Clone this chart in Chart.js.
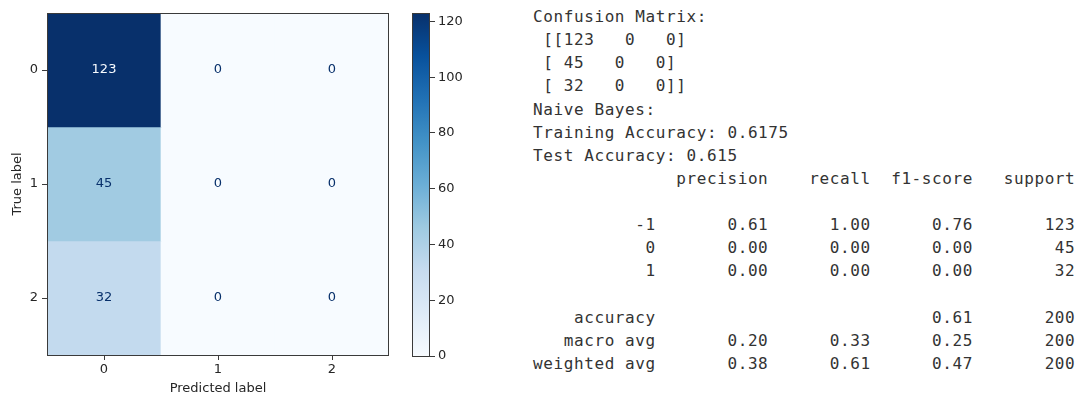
<!DOCTYPE html>
<html>
<head>
<meta charset="utf-8">
<script src="https://cdn.jsdelivr.net/npm/chart.js@4/dist/chart.umd.min.js"></script>
<style>
  body { margin: 0; background: #fff; width: 1081px; height: 396px; position: relative; overflow: hidden; }
  #cmBox { position: absolute; left: 0; top: 0; width: 400px; height: 396px; }
  #cbBox { position: absolute; left: 400px; top: 0; width: 80px; height: 396px; }
  #report {
    position: absolute; left: 533px; top: 5px; margin: 0;
    font-family: "DejaVu Sans Mono", monospace; font-size: 16px; letter-spacing: 0.6px;
    line-height: 23.13px; color: #333; white-space: pre;
  }
</style>
</head>
<body>
<div id="cmBox"><canvas id="cmChart"></canvas></div>
<div id="cbBox"><canvas id="cbChart"></canvas></div>
<pre id="report"></pre>
<script>
// confusion matrix
const predictedLabels = ['0', '1', '2'];
const trueLabels = ['0', '1', '2'];
const matrixRows = [
    [123, 0, 0],
    [45, 0, 0],
    [32, 0, 0]
];
const colorbarTicks = [0, 20, 40, 60, 80, 100, 120];

// printed report
const trainAccuracy = '0.6175';
const testAccuracy = '0.615';
const reportClasses = ['-1', '0', '1'];
const precision = [0.61, 0.00, 0.00];
const recall = [1.00, 0.00, 0.00];
const f1Score = [0.76, 0.00, 0.00];
const support = [123, 45, 32];
const accuracy = 0.61;
const totalSupport = 200;
const macroAvg = [0.20, 0.33, 0.25];
const weightedAvg = [0.38, 0.61, 0.47];

const maxVal = Math.max(...matrixRows.flat());

// matplotlib "Blues"
const bluesStops = ['#f7fbff', '#deebf7', '#c6dbef', '#9ecae1', '#6baed6', '#4292c6', '#2171b5', '#08519c', '#08306b'];
function hexRgb(h) {
    return [1, 3, 5].map(i => parseInt(h.substr(i, 2), 16));
}
function blues(t) {
    t = Math.min(1, Math.max(0, t));
    const p = t * (bluesStops.length - 1);
    const i = Math.min(Math.floor(p), bluesStops.length - 2);
    const f = p - i;
    const a = hexRgb(bluesStops[i]), b = hexRgb(bluesStops[i + 1]);
    const c = a.map((v, k) => Math.round(v + (b[k] - v) * f));
    return `rgb(${c[0]}, ${c[1]}, ${c[2]})`;
}

const tickFont = { family: 'DejaVu Sans', size: 13 };
const inkColor = '#262626';

const framePlugin = {
    id: 'frame',
    afterDraw(chart) {
        const { ctx, chartArea: a } = chart;
        ctx.save();
        ctx.strokeStyle = '#3a3a3a';
        ctx.lineWidth = 1;
        ctx.strokeRect(Math.round(a.left) + 0.5, Math.round(a.top) + 0.5,
            Math.round(a.right - a.left) - 1, Math.round(a.bottom - a.top));
        ctx.restore();
    }
};

const cellTextPlugin = {
    id: 'cellText',
    afterDatasetsDraw(chart) {
        const ctx = chart.ctx;
        ctx.save();
        ctx.font = '13px "DejaVu Sans"';
        ctx.textAlign = 'center';
        ctx.textBaseline = 'middle';
        chart.data.datasets.forEach((ds, di) => {
            chart.getDatasetMeta(di).data.forEach((bar, j) => {
                const v = ds.values[j];
                const p = bar.getCenterPoint();
                ctx.fillStyle = v > maxVal / 2 ? bluesStops[0] : bluesStops[8];
                ctx.fillText(String(v), p.x, p.y);
            });
        });
        ctx.restore();
    }
};

new Chart(document.getElementById('cmChart'), {
    type: 'bar',
    data: {
        labels: predictedLabels,
        datasets: matrixRows.map((row, i) => ({
            data: row.map(() => [i - 0.5, i + 0.5]),
            values: row,
            backgroundColor: row.map(v => blues(v / maxVal)),
            borderWidth: 0,
            barPercentage: 1,
            categoryPercentage: 1
        }))
    },
    options: {
        responsive: true,
        maintainAspectRatio: false,
        animation: false,
        layout: { padding: { top: 13, right: 11, left: 0, bottom: 0 } },
        plugins: { legend: { display: false }, tooltip: { enabled: false } },
        scales: {
            x: {
                stacked: true,
                offset: true,
                afterFit: s => { s.height = 41; },
                grid: { offset: false, drawOnChartArea: false, tickLength: 5, color: '#3a3a3a' },
                border: { display: false },
                ticks: { font: tickFont, color: inkColor, padding: 2, maxRotation: 0 },
                title: { display: true, text: 'Predicted label', font: { family: 'DejaVu Sans', size: 13, lineHeight: 1.1 }, color: inkColor, padding: { top: 0, bottom: 0 } }
            },
            y: {
                min: -0.5,
                max: 2.5,
                reverse: true,
                afterFit: s => { s.width = 47; },
                afterBuildTicks: s => { s.ticks = trueLabels.map((_, i) => ({ value: i })); },
                grid: { drawOnChartArea: false, tickLength: 5, color: '#3a3a3a' },
                border: { display: false },
                ticks: { font: tickFont, color: inkColor, padding: 4, callback: v => trueLabels[v] },
                title: { display: true, text: 'True label', font: { family: 'DejaVu Sans', size: 13, lineHeight: 1.1 }, color: inkColor, padding: { top: 10, bottom: 0 } }
            }
        }
    },
    plugins: [cellTextPlugin, framePlugin]
});

new Chart(document.getElementById('cbChart'), {
    type: 'bar',
    data: {
        labels: [''],
        datasets: [{
            data: [[0, maxVal]],
            backgroundColor: ctx => {
                const a = ctx.chart.chartArea;
                if (!a) return bluesStops[4];
                const g = ctx.chart.ctx.createLinearGradient(0, a.bottom, 0, a.top);
                bluesStops.forEach((c, i) => g.addColorStop(i / (bluesStops.length - 1), c));
                return g;
            },
            borderWidth: 0,
            barPercentage: 1,
            categoryPercentage: 1
        }]
    },
    options: {
        responsive: true,
        maintainAspectRatio: false,
        animation: false,
        layout: { padding: { top: 13, left: 12, right: 0, bottom: 40 } },
        plugins: { legend: { display: false }, tooltip: { enabled: false } },
        scales: {
            x: { display: false },
            y: {
                position: 'right',
                min: 0,
                max: maxVal,
                afterFit: s => { s.width = 50; },
                afterBuildTicks: s => { s.ticks = colorbarTicks.map(v => ({ value: v })); },
                grid: { drawOnChartArea: false, tickLength: 5, color: '#3a3a3a' },
                border: { display: false },
                ticks: { font: tickFont, color: inkColor, padding: 3 }
            }
        }
    },
    plugins: [framePlugin]
});

// text output
const f2 = v => v.toFixed(2);
const w = 12;
const lines = [];
lines.push('Confusion Matrix:');
matrixRows.forEach((row, i) => {
    const cells = row.map(v => String(v).padStart(3)).join(' ');
    const open = i === 0 ? '[[' : '[';
    const close = i === matrixRows.length - 1 ? ']]' : ']';
    lines.push(' ' + open + cells + close);
});
lines.push('Naive Bayes:');
lines.push('Training Accuracy: ' + trainAccuracy);
lines.push('Test Accuracy: ' + testAccuracy);
lines.push(''.padStart(w) + ' ' + ['precision', 'recall', 'f1-score', 'support'].map(h => ' ' + h.padStart(9)).join(''));
lines.push('');
reportClasses.forEach((c, i) => {
    lines.push(c.padStart(w) + ' ' + [f2(precision[i]), f2(recall[i]), f2(f1Score[i]), String(support[i])].map(s => ' ' + s.padStart(9)).join(''));
});
lines.push('');
lines.push('accuracy'.padStart(w) + ' ' + ['', '', f2(accuracy), String(totalSupport)].map(s => ' ' + s.padStart(9)).join(''));
lines.push('macro avg'.padStart(w) + ' ' + [...macroAvg.map(f2), String(totalSupport)].map(s => ' ' + s.padStart(9)).join(''));
lines.push('weighted avg'.padStart(w) + ' ' + [...weightedAvg.map(f2), String(totalSupport)].map(s => ' ' + s.padStart(9)).join(''));
document.getElementById('report').textContent = lines.join('\n');
</script>
</body>
</html>
